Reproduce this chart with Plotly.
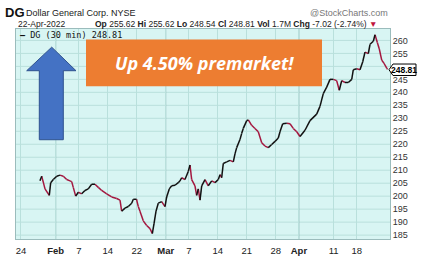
import plotly.graph_objects as go

# ---- data (x = trading-session index, Jan 24 2022 = 0) ----
session_idx = [3.28, 3.58, 4.15, 4.89, 5.13, 5.58, 6.17, 6.74, 7.31, 7.89, 8.46, 8.76, 9.03, 9.45, 9.90,
               10.48, 11.05, 11.62, 12.21, 12.78, 13.35, 13.94, 14.80, 15.66, 16.53, 17.10, 17.39, 17.96,
               18.53, 19.12, 19.40, 19.95, 20.26, 20.55, 21.12, 21.71, 22.28, 22.68, 22.97, 23.32, 23.71,
               24.30, 24.87, 25.16, 25.61, 26.03, 26.60, 27.17, 27.46, 27.75, 28.32, 28.89, 29.19, 29.48,
               30.05, 30.34, 30.62, 30.92, 31.21, 31.78, 32.35, 32.94, 33.51, 34.08, 34.37, 34.66, 34.94,
               35.53, 36.10, 36.67, 36.96, 37.25, 37.82, 38.12, 38.39, 38.98, 39.26, 39.84, 40.41, 40.98,
               41.57, 42.14, 42.71, 43.30, 43.87, 44.44, 44.73, 45.20, 45.89, 46.46, 47.03, 47.62, 48.19,
               49.05, 49.91, 51.07, 51.64, 52.21, 52.80, 53.37, 53.94, 54.52, 54.97, 55.39, 55.96, 56.53,
               57.12, 57.39, 57.98, 58.55, 59.02, 59.41, 59.98, 60.28, 60.85, 61.14, 61.54, 61.88, 62.30,
               62.69, 63.16, 63.30]
close = [205.9, 207.7, 202.8, 200.3, 205.2, 206.4, 207.7, 208.1, 207.7, 206.4, 205.9, 205.6, 203.4, 200.0,
         201.5, 200.9, 202.2, 202.8, 204.6, 204.6, 203.4, 202.2, 200.9, 199.7, 199.1, 198.5, 194.2, 195.4,
         196.0, 197.3, 198.8, 198.8, 196.0, 194.2, 190.5, 188.7, 187.5, 185.6, 189.3, 194.2, 197.3, 197.9,
         196.0, 199.7, 202.8, 204.0, 204.2, 205.2, 205.9, 207.1, 206.4, 209.5, 212.0, 206.4, 204.0, 200.3,
         202.8, 198.5, 204.0, 206.4, 204.0, 205.9, 205.2, 206.4, 208.3, 207.1, 212.6, 213.2, 213.8, 213.2,
         216.3, 218.7, 221.8, 224.2, 226.1, 229.1, 229.4, 227.3, 226.1, 224.8, 220.6, 219.3, 218.7, 219.9,
         221.1, 222.4, 224.8, 227.9, 228.1, 227.9, 226.1, 224.8, 223.0, 225.4, 229.1, 231.6, 234.6, 239.5,
         242.0, 245.0, 245.0, 244.5, 240.8, 244.5, 243.8, 243.8, 245.0, 248.7, 249.1, 248.7, 251.8, 255.5,
         254.9, 258.5, 259.7, 262.2, 259.2, 256.7, 252.4, 251.2, 249.3, 248.81]

tick_idx = [0, 6, 10, 15, 20, 25, 29, 34, 39, 44, 48, 54, 58]
tick_text = ["24", "<b>Feb</b>", "7", "14", "22", "<b>Mar</b>", "7", "14", "21", "28", "<b>Apr</b>", "11", "18"]
month_idx = [6, 25, 48]
y_ticks = [185, 190, 195, 200, 205, 210, 215, 220, 225, 230, 235, 240, 245, 255, 260]
y_grid = list(range(185, 265, 5))
last_price = 248.81

W, H = 424, 268
L, R, T, B = 16, 390, 29, 249


def px(x, y):
    return (x - L) / (R - L), (B - y) / (B - T)


# up / down coloured segments
up_x, up_y, dn_x, dn_y = [], [], [], []
for i in range(1, len(close)):
    seg_x = [session_idx[i - 1], session_idx[i], None]
    seg_y = [close[i - 1], close[i], None]
    if close[i] >= close[i - 1]:
        up_x += seg_x; up_y += seg_y
    else:
        dn_x += seg_x; dn_y += seg_y

fig = go.Figure()
fig.add_trace(go.Scatter(x=dn_x, y=dn_y, mode="lines", line=dict(color="#a3173f", width=1.5),
                         hoverinfo="skip", showlegend=False))
fig.add_trace(go.Scatter(x=up_x, y=up_y, mode="lines", line=dict(color="#111111", width=1.5),
                         hoverinfo="skip", showlegend=False))

shapes = []
# horizontal grid lines (including the one hidden behind the price tag)
for g in y_grid:
    shapes.append(dict(type="line", xref="paper", yref="y", x0=0, x1=1, y0=g, y1=g,
                       line=dict(color="#b9e0dc", width=1), layer="below"))
for m in month_idx:
    shapes.append(dict(type="line", xref="x", yref="paper", x0=m, x1=m, y0=0, y1=1,
                       line=dict(color="#93bcbc", width=1), layer="below"))

# orange banner
x0, y0 = px(86, 89)
x1, y1 = px(322, 40)
shapes.append(dict(type="rect", xref="paper", yref="paper", x0=x0, y0=y0, x1=x1, y1=y1,
                   fillcolor="#ed7d31", line=dict(width=0)))

# blue arrow
pts = [(51.7, 48), (76, 72.7), (63.3, 72.7), (63.3, 145), (39.3, 145), (39.3, 72.7), (26.7, 72.7)]
path = "M " + " L ".join("%.4f,%.4f" % px(*p) for p in pts) + " Z"
shapes.append(dict(type="path", xref="paper", yref="paper", path=path,
                   fillcolor="#4472c4", line=dict(color="#2f528f", width=1)))

# price tag pointer
ty = 71.7
tag = [(389, ty), (393, ty - 6), (416, ty - 6), (416, ty + 6), (393, ty + 6)]
tpath = "M " + " L ".join("%.4f,%.4f" % px(*p) for p in tag) + " Z"
shapes.append(dict(type="path", xref="paper", yref="paper", path=tpath,
                   fillcolor="white", line=dict(color="black", width=1)))

annotations = []


def ann(text, x, y, size, color="#222", xanchor="left", family="Liberation Sans", **kw):
    ax, ay = px(x, y)
    annotations.append(dict(text=text, x=ax, y=ay, xref="paper", yref="paper", xanchor=xanchor,
                            yanchor="middle", showarrow=False,
                            font=dict(size=size, color=color, family=family), **kw))


ann("<b>DG</b>", 3, 12, 13, color="#111")
ann("Dollar General Corp. NYSE", 24, 12.5, 9, color="#222")
ann("@StockCharts.com", 390, 12.5, 9, color="#777", xanchor="right")
ann("22-Apr-2022", 16, 24, 8.5, color="#222")
ann("<b>Op</b> 255.62 <b>Hi</b> 255.62 <b>Lo</b> 248.54 <b>Cl</b> 248.81 <b>Vol</b> 1.7M "
    "<b>Chg</b> -7.02 (-2.74%) <span style='color:#c0143c'>▼</span>", 93, 24, 8.5, color="#222")
ann("<b>—</b> DG (30 min) 248.81", 18, 35.5, 8.5, color="#111", family="DejaVu Sans Mono")
ann("<b>%.2f</b>" % last_price, 404, ty, 8.5, color="#000", xanchor="center")
ann("<b><i>Up 4.50% premarket!</i></b>", 204, 64.5, 18, color="white", xanchor="center",
    family="Open Sans")

fig.update_layout(
    width=W, height=H,
    margin=dict(l=L, r=W - R, t=T, b=H - B),
    paper_bgcolor="white",
    plot_bgcolor="#d8f5f3",
    shapes=shapes,
    annotations=annotations,
    xaxis=dict(range=[-0.86, 63.73], tickvals=tick_idx, ticktext=tick_text, showgrid=True,
               gridcolor="#b9e0dc", gridwidth=1, zeroline=False, ticks="", showline=True,
               linecolor="#9bbcbc", mirror=True, ticklabelstandoff=3,
               tickfont=dict(size=9.5, color="#222", family="Liberation Sans")),
    yaxis=dict(range=[183.5, 264.4], side="right", tickvals=y_ticks, showgrid=False,
               zeroline=False, ticks="", showline=True,
               linecolor="#9bbcbc", mirror=True,
               tickfont=dict(size=9, color="#333", family="Liberation Sans")),
    showlegend=False,
)

fig.write_html("out.html")
